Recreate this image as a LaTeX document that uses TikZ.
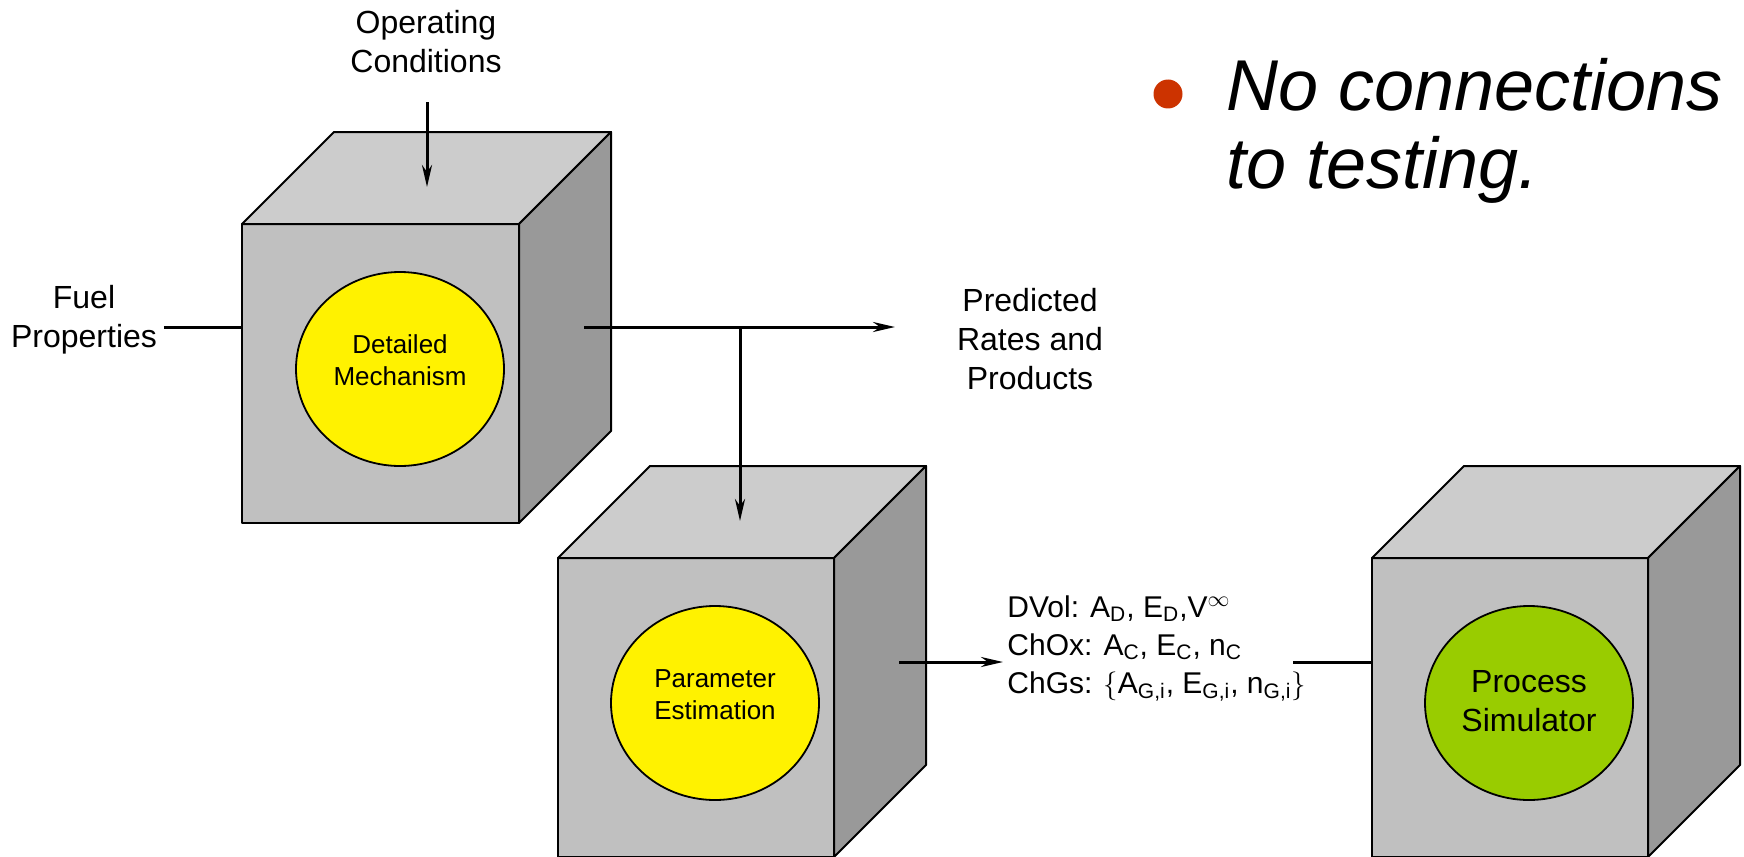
\documentclass[tikz,border=0pt]{standalone}
\usepackage{fontspec}
\setmainfont{Liberation Sans}
\usetikzlibrary{arrows.meta,shapes.geometric}
\definecolor{facefront}{HTML}{C0C0C0}
\definecolor{facetop}{HTML}{CCCCCC}
\definecolor{faceside}{HTML}{999999}
\definecolor{simgreen}{HTML}{99CC00}
\definecolor{bulletred}{HTML}{CC3300}
\begin{document}
\begin{tikzpicture}[x=0.5pt, y=-0.5pt,
  edge/.style={line width=1pt, line join=round},
  wire/.style={line width=1.5pt},
  flow/.style={line width=1.5pt, -{Stealth[length=11pt,width=5pt,inset=3.5pt]}},
  ball/.style={ellipse, draw, line width=0.9pt, minimum width=104pt, minimum height=97pt, inner sep=0pt},
  lbl/.style={align=center, font=\fontsize{16}{19.5}\selectfont},
  small/.style={align=center, font=\fontsize{13}{16}\selectfont}]
  \useasboundingbox (0,0) rectangle (1744,856);
  % 三个立方体：正面、顶面、侧面
  \foreach \cx/\cy/\w in {242/224/277, 558/558/276, 1372/558/276} {
    \draw[edge, fill=facefront] (\cx,\cy) rectangle (\cx+\w,\cy+299);
    \draw[edge, fill=facetop] (\cx,\cy) -- (\cx+92,\cy-92) -- (\cx+\w+92,\cy-92) -- (\cx+\w,\cy) -- cycle;
    \draw[edge, fill=faceside] (\cx+\w,\cy) -- (\cx+\w+92,\cy-92) -- (\cx+\w+92,\cy+207) -- (\cx+\w,\cy+299) -- cycle;
  }
  % 正面上的椭圆
  \node[ball, fill=yellow] (mech) at (400,369) {};
  \node[small] (mechtxt) at (400,360) {Detailed\\Mechanism};
  \node[ball, fill=yellow] (est) at (715,703) {};
  \node[small] (esttxt) at (715,695) {Parameter\\Estimation};
  \node[ball, fill=simgreen] (sim) at (1529,703) {};
  \node[lbl] (simtxt) at (1529,701) {Process\\Simulator};
  % 输入输出标注
  \node[lbl] (opc) at (426,42) {Operating\\Conditions};
  \node[lbl] (fuel) at (84,320) {Fuel\\Properties};
  \node[lbl] (pred) at (1030,339) {Predicted\\Rates and\\Products};
  \node[anchor=north west, align=left, inner xsep=2pt, inner ysep=0pt,
    font=\fontsize{15}{19}\selectfont] (par) at (1003,595)
    {DVol: A\textsubscript{D}, E\textsubscript{D},V$^{\infty}$\\
     ChOx: A\textsubscript{C}, E\textsubscript{C}, n\textsubscript{C}\\
     ChGs: $\{$A\textsubscript{G,i}, E\textsubscript{G,i}, n\textsubscript{G,i}$\}$};
  % 连线端点
  \coordinate (optip) at (427,187);
  \coordinate (in1) at (242,327);
  \coordinate (out1) at (584,327);
  \coordinate (split) at (740,327);
  \coordinate (predtip) at (895,327);
  \coordinate (esttip) at (740,521);
  \coordinate (out2) at (899,662);
  \coordinate (simline) at (1293,662);
  \coordinate (in3) at (1372,662);
  % 连线
  \draw[flow, shorten <=11pt] (opc.south -| optip) -- (optip);
  \draw[wire] (fuel.east |- in1) -- (in1);
  \draw[flow] (out1) -- (predtip);
  \draw[flow] (split) -- (esttip);
  \draw[flow] (out2) -- (par.west |- out2);
  \draw[wire] (simline) -- (in3);
  % 右上角要点
  \node[circle, fill=bulletred, minimum size=14.5pt, inner sep=0pt] (dot) at (1168,94) {};
  \node[anchor=north west, align=left, inner sep=0pt,
    font=\itshape\fontsize{36}{39}\selectfont] (note) at (1226,58)
    {No connections\\to testing.};
\end{tikzpicture}
\end{document}
